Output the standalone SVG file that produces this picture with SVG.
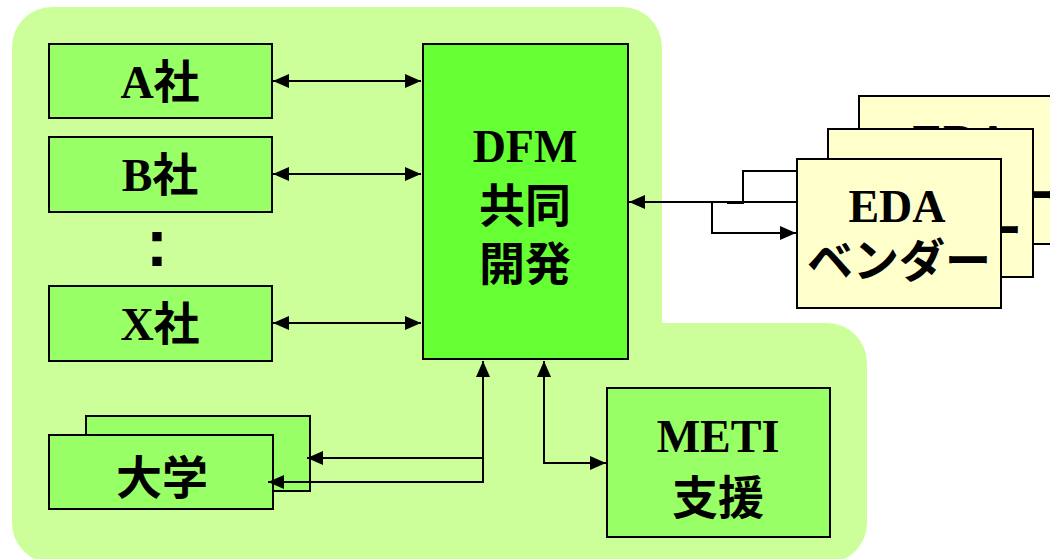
<svg xmlns="http://www.w3.org/2000/svg" width="1050" height="559" viewBox="0 0 1050 559">
  <style>
    .box { stroke: #000; stroke-width: 2; }
    .g1 { fill: #99FF66; }
    .g2 { fill: #66FF33; }
    .y1 { fill: #FFFFCC; }
    .t { font-family: 'Liberation Serif', 'Noto Sans CJK JP', serif; font-weight: bold; font-size: 46px; fill: #000; text-anchor: middle; }
    .c { fill: none; stroke: #000; stroke-width: 2; }
  </style>
  <defs>
    <marker id="ah" markerUnits="userSpaceOnUse" markerWidth="16" markerHeight="14" refX="16" refY="7" orient="auto-start-reverse">
      <path d="M0,0 L16,7 L0,14 Z" fill="#000"/>
    </marker>
  </defs>

  <g id="background">
    <path d="M12,47 A40,40 0 0 1 52,7 H622 A40,40 0 0 1 662,47 V323 H827 A40,40 0 0 1 867,363 V523 A40,40 0 0 1 827,563 H52 A40,40 0 0 1 12,523 Z" fill="#CCFF99"/>
  </g>

  <g id="node-a">
    <rect class="box g1" x="49" y="44" width="223" height="74"/>
    <text class="t" x="160" y="98">A社</text>
  </g>
  <g id="node-b">
    <rect class="box g1" x="49" y="137" width="223" height="75"/>
    <text class="t" x="160" y="191">B社</text>
  </g>
  <g id="ellipsis">
    <text x="157" y="266" style="font-family: 'Liberation Sans', sans-serif; font-weight: bold; font-size: 66px; text-anchor: middle;">:</text>
  </g>
  <g id="node-x">
    <rect class="box g1" x="49" y="286" width="223" height="75"/>
    <text class="t" x="160" y="340">X社</text>
  </g>
  <g id="node-dfm">
    <rect class="box g2" x="423" y="44" width="205" height="315"/>
    <text class="t" x="525" y="162">DFM</text>
    <text class="t" x="525" y="222">共同</text>
    <text class="t" x="525" y="280">開発</text>
  </g>
  <g id="node-univ">
    <rect class="box g1" x="86" y="416" width="224" height="75"/>
    <rect class="box g1" x="49" y="435" width="224" height="74"/>
    <text class="t" x="162" y="494">大学</text>
  </g>
  <g id="node-meti">
    <rect class="box g1" x="607" y="388" width="223" height="149"/>
    <text class="t" x="718" y="452">METI</text>
    <text class="t" x="718" y="514">支援</text>
  </g>
  <g id="node-eda">
    <rect class="box y1" x="859" y="96" width="204" height="148"/>
    <text class="t" x="961" y="157">EDA</text>
    <text class="t" x="963" y="212">ベンダー</text>
    <rect class="box y1" x="828" y="129" width="205" height="148"/>
    <text class="t" x="928" y="192">EDA</text>
    <text class="t" x="930" y="247">ベンダー</text>
    <rect class="box y1" x="797" y="159" width="204" height="149"/>
    <text class="t" x="897" y="222">EDA</text>
    <text class="t" x="899" y="277">ベンダー</text>
  </g>

  <g id="connectors">
    <line class="c" x1="273" y1="81" x2="421" y2="81" marker-start="url(#ah)" marker-end="url(#ah)"/>
    <line class="c" x1="273" y1="174" x2="421" y2="174" marker-start="url(#ah)" marker-end="url(#ah)"/>
    <line class="c" x1="273" y1="323" x2="421" y2="323" marker-start="url(#ah)" marker-end="url(#ah)"/>
    <line class="c" x1="796" y1="202" x2="629" y2="202" marker-end="url(#ah)"/>
    <polyline class="c" points="727,203 743,203 743,171 796,171"/>
    <polyline class="c" points="712,202 712,233 796,233" marker-end="url(#ah)"/>
    <polyline class="c" points="483,361 483,482 268,482" marker-start="url(#ah)" marker-end="url(#ah)"/>
    <polyline class="c" points="483,458 307,458" marker-end="url(#ah)"/>
    <polyline class="c" points="544,361 544,463 606,463" marker-start="url(#ah)" marker-end="url(#ah)"/>
  </g>
</svg>
